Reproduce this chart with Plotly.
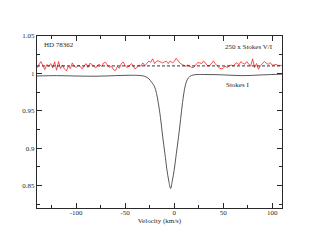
import numpy as np
import plotly.graph_objects as go

# Stokes I profile (velocity km/s, normalized intensity)
I_VEL = [-140, -120, -100, -80, -60, -45, -35, -30, -26, -23, -20.3, -18, -16.3, -14,
         -11.8, -9.5, -7.4, -5.5, -3.6, -2, 0, 2.2, 4.5, 6.5, 8.5, 11.2, 13.5, 16, 20,
         30, 50, 70, 90, 110]
I_VAL = [0.9965, 0.997, 0.9965, 0.9962, 0.997, 0.9975, 0.9972, 0.996, 0.993, 0.988,
         0.983, 0.973, 0.961, 0.941, 0.916, 0.893, 0.871, 0.856, 0.846, 0.856, 0.871,
         0.893, 0.916, 0.938, 0.961, 0.983, 0.992, 0.996, 0.998, 0.9985, 0.998, 0.997,
         0.998, 0.999]

# 250 x Stokes V/I (shifted), sampled every 2 km/s from -140 to 110
V_VEL = list(range(-140, 112, 2))
V_VAL = [1.0073, 1.0113, 1.0158, 1.0104, 1.0051, 1.0118, 1.0096, 1.0131, 1.0073, 1.0154,
         1.0042, 1.0158, 1.0064, 1.0113, 1.0060, 1.0033, 1.0096, 1.0064, 1.0140, 1.0096,
         1.0078, 1.0109, 1.0096, 1.0060, 1.0100, 1.0131, 1.0078, 1.0136, 1.0118, 1.0100,
         1.0073, 1.0113, 1.0118, 1.0091, 1.0140, 1.0149, 1.0104, 1.0082, 1.0096, 1.0051,
         1.0037, 1.0091, 1.0069, 1.0127, 1.0154, 1.0100, 1.0078, 1.0096, 1.0131, 1.0109,
         1.0060, 1.0078, 1.0113, 1.0096, 1.0140, 1.0104, 1.0136, 1.0163, 1.0149, 1.0194,
         1.0131, 1.0163, 1.0167, 1.0158, 1.0140,
         1.0154, 1.0163, 1.0131, 1.0167, 1.0140, 1.0158, 1.0203, 1.0163, 1.0136, 1.0118,
         1.0104, 1.0096, 1.0113, 1.0100, 1.0078, 1.0082, 1.0113, 1.0145, 1.0140, 1.0131,
         1.0167, 1.0127, 1.0104, 1.0100, 1.0131, 1.0167, 1.0127, 1.0096, 1.0073, 1.0060,
         1.0069, 1.0096, 1.0078, 1.0100, 1.0113, 1.0100, 1.0127, 1.0145, 1.0113, 1.0158,
         1.0136, 1.0122, 1.0158, 1.0118, 1.0096, 1.0194, 1.0078, 1.0131, 1.0055, 1.0104,
         1.0131, 1.0158, 1.0136, 1.0122, 1.0145, 1.0109, 1.0113, 1.0122, 1.0104, 1.0109,
         1.0100]
V_ZERO = 1.01

X_TICKS = [-100, -50, 0, 50, 100]
X_LABELS = ["-100", "-50", "0", "50", "100"]
X_MINOR = [-125, -75, -25, 25, 75]
Y_TICKS = [0.85, 0.9, 0.95, 1.0, 1.05]
Y_LABELS = ["0.85", "0.9", "0.95", "1", "1.05"]
Y_MINOR = [0.825, 0.875, 0.925, 0.975, 1.025]

FONT = "Liberation Serif"
INK = "#2a2a2a"

fig = go.Figure()
fig.add_trace(go.Scatter(x=V_VEL, y=V_VAL, mode="lines",
                         line=dict(color="#ff2020", width=0.8), hoverinfo="skip"))
fig.add_trace(go.Scatter(x=I_VEL, y=I_VAL, mode="lines", line_shape="spline",
                         line=dict(color="#444444", width=0.9), hoverinfo="skip"))
fig.add_hline(y=V_ZERO, line=dict(color="#000000", width=0.8, dash="3px,2px"))

axis_common = dict(showline=True, linecolor=INK, linewidth=1, mirror="allticks",
                   ticks="inside", tickcolor=INK, ticklen=5, tickwidth=1,
                   showgrid=False, zeroline=False,
                   tickfont=dict(family=FONT, size=7, color=INK))

fig.update_xaxes(range=[-140, 110], tickmode="array", tickvals=X_TICKS, ticktext=X_LABELS,
                 minor=dict(tickmode="array", tickvals=X_MINOR, ticks="inside",
                            ticklen=3, tickcolor=INK),
                 ticklabelstandoff=-2,
                 title=dict(text="Velocity (km/s)", font=dict(family=FONT, size=7, color=INK),
                            standoff=1),
                 **axis_common)
fig.update_yaxes(range=[0.82, 1.05], tickmode="array", tickvals=Y_TICKS, ticktext=Y_LABELS,
                 minor=dict(tickmode="array", tickvals=Y_MINOR, ticks="inside",
                            ticklen=3, tickcolor=INK),
                 **axis_common)

fig.add_annotation(x=-135, y=1.0375, text="HD 78362", showarrow=False, xanchor="left",
                   font=dict(family=FONT, size=7, color=INK))
fig.add_annotation(x=50, y=1.0355, text="250 x Stokes V/I", showarrow=False, xanchor="left",
                   font=dict(family=FONT, size=7, color=INK))
fig.add_annotation(x=51, y=0.985, text="Stokes I", showarrow=False, xanchor="left",
                   font=dict(family=FONT, size=7, color=INK))

# page body adds an 8px offset; margins compensate so the plot box lands where the reference has it
fig.update_layout(width=317, height=245, margin=dict(l=29, r=43, t=28, b=45),
                  paper_bgcolor="white", plot_bgcolor="white", showlegend=False)

fig.write_html("out.html")
